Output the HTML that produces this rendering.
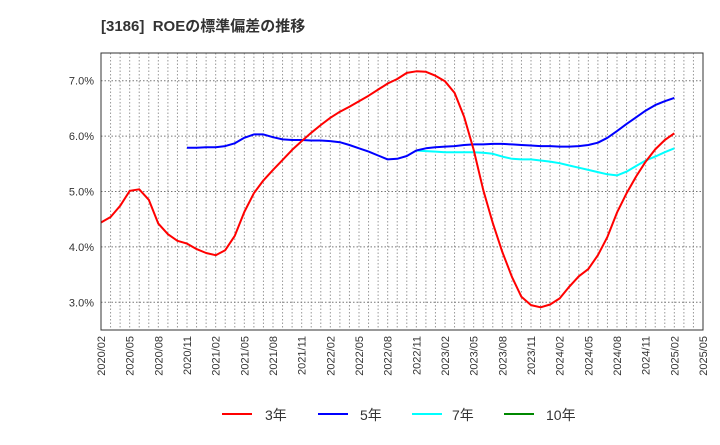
<!DOCTYPE html>
<html><head><meta charset="utf-8"><style>
body{margin:0;background:#fff;font-family:"Liberation Sans","Noto Sans CJK JP",sans-serif;}
svg text{font-family:"Liberation Sans","Noto Sans CJK JP",sans-serif;}
</style></head><body>
<svg id="c" width="720" height="440">
<text x="101" y="31" font-size="15" font-weight="bold" fill="#333">[3186]&#160; ROEの標準偏差の推移</text>
<g id="grid"></g><g id="series"></g><g id="axes"></g>
<g>
<g><line x1="222" y1="414" x2="252" y2="414" stroke="#f00" stroke-width="2"/><text x="265" y="420" font-size="14" fill="#333">3年</text></g>
<g><line x1="318" y1="414" x2="348" y2="414" stroke="#00f" stroke-width="2"/><text x="360" y="420" font-size="14" fill="#333">5年</text></g>
<g><line x1="412" y1="414" x2="442" y2="414" stroke="#0ff" stroke-width="2"/><text x="452" y="420" font-size="14" fill="#333">7年</text></g>
<g><line x1="504" y1="414" x2="534" y2="414" stroke="#080" stroke-width="2"/><text x="546" y="420" font-size="14" fill="#333">10年</text></g>
</g>
</svg>
<script>
const xTickLabels=["2020/02","2020/05","2020/08","2020/11","2021/02","2021/05","2021/08","2021/11","2022/02","2022/05","2022/08","2022/11","2023/02","2023/05","2023/08","2023/11","2024/02","2024/05","2024/08","2024/11","2025/02","2025/05"];
const yTicks=[3,4,5,6,7];
const s3=[4.44,4.54,4.74,5.01,5.04,4.85,4.42,4.23,4.11,4.06,3.96,3.89,3.85,3.94,4.2,4.63,4.97,5.2,5.39,5.57,5.75,5.91,6.06,6.2,6.33,6.44,6.53,6.63,6.73,6.84,6.95,7.03,7.14,7.17,7.16,7.09,6.99,6.78,6.35,5.75,5.03,4.43,3.91,3.46,3.1,2.95,2.91,2.96,3.07,3.28,3.47,3.6,3.85,4.18,4.62,4.97,5.27,5.54,5.76,5.93,6.05];
const s5=[null,null,null,null,null,null,null,null,null,5.79,5.79,5.8,5.8,5.82,5.87,5.97,6.03,6.03,5.98,5.94,5.93,5.93,5.92,5.92,5.91,5.89,5.84,5.78,5.72,5.65,5.58,5.59,5.64,5.74,5.78,5.8,5.81,5.82,5.84,5.85,5.85,5.86,5.86,5.85,5.84,5.83,5.82,5.82,5.81,5.81,5.82,5.84,5.88,5.97,6.09,6.22,6.34,6.46,6.56,6.63,6.69];
const s7=[null,null,null,null,null,null,null,null,null,null,null,null,null,null,null,null,null,null,null,null,null,null,null,null,null,null,null,null,null,null,null,null,null,5.74,5.73,5.72,5.71,5.71,5.71,5.71,5.7,5.68,5.63,5.59,5.58,5.58,5.56,5.54,5.51,5.47,5.43,5.39,5.35,5.31,5.29,5.36,5.46,5.56,5.63,5.71,5.78];
const s10=[];
const X0=101,X1=703,Y0=53,Y1=330,NM=63,VMIN=2.5,VMAX=7.5;
const xs=i=>X0+(X1-X0)*i/NM;
const ys=v=>Y1-(v-VMIN)/(VMAX-VMIN)*(Y1-Y0);
const NS="http://www.w3.org/2000/svg";
function mk(p,t,a){const e=document.createElementNS(NS,t);for(const k in a)e.setAttribute(k,a[k]);p.appendChild(e);return e;}
const g=document.getElementById('grid'),ax=document.getElementById('axes'),se=document.getElementById('series');
for(let i=1;i<NM;i++){const l=mk(g,'line',{x1:xs(i),x2:xs(i),y1:Y0,y2:Y1,stroke:'#999','stroke-dasharray':'1.5,2','stroke-width':1});

}
yTicks.forEach(v=>{const l=mk(g,'line',{x1:X0,x2:X1,y1:ys(v),y2:ys(v),stroke:'#777','stroke-dasharray':'1.5,2','stroke-width':1});


const t=mk(ax,'text',{x:94,y:ys(v)+4,'font-size':11,fill:'#333','text-anchor':'end'});t.textContent=v.toFixed(1)+'%';

});
const fr=mk(ax,'rect',{x:X0,y:Y0,width:X1-X0,height:Y1-Y0,fill:'none',stroke:'#333','stroke-width':1});


xTickLabels.forEach((s,k)=>{const x=xs(k*3);const t=mk(ax,'text',{x:0,y:0,'font-size':11,fill:'#333','text-anchor':'end',transform:`translate(${x+4},${Y1+6}) rotate(-90)`});t.textContent=s;

});
function draw(arr,col,name){let d='';let pen=false;arr.forEach((v,i)=>{if(v==null){pen=false;return;}d+=(pen?'L':'M')+xs(i).toFixed(1)+','+ys(v).toFixed(1);pen=true;});
if(!d)return;const p=mk(se,'path',{d:d,fill:'none',stroke:col,'stroke-width':2,'stroke-linejoin':'round'});

}
draw(s7,'#0ff','series-7y');draw(s5,'#00f','series-5y');draw(s3,'#f00','series-3y');draw(s10,'#080','series-10y');
</script>
</body></html>
